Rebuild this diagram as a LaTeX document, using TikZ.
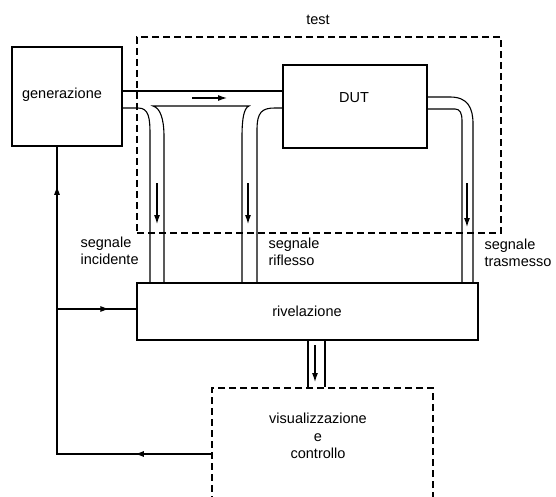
\documentclass[tikz,border=0pt]{standalone}
\usepackage{fontspec}
\setmainfont{Liberation Sans}
\usetikzlibrary{arrows.meta,decorations.markings}
\begin{document}
\begin{tikzpicture}[x=1pt,y=-1pt,
  line width=1.1pt,
  box/.style={draw,rectangle,inner sep=0pt},
  dbox/.style={draw,rectangle,inner sep=0pt,line width=2pt,dash pattern=on 7pt off 4pt},
  txt/.style={inner sep=0pt,font=\fontsize{14.5}{17.5}\selectfont,align=left},
  ctxt/.style={inner sep=0pt,font=\fontsize{14.5}{17.5}\selectfont,align=center},
  arr/.style={-{Latex[length=9pt,width=6pt]}},
  midarr/.style={postaction={decorate},decoration={markings,mark=at position #1 with {\arrow{Latex[length=9pt,width=6pt]}}}},
  twoarr/.style 2 args={postaction={decorate},decoration={markings,
     mark=at position #1 with {\arrow{Latex[length=9pt,width=6pt]}},
     mark=at position #2 with {\arrow{Latex[length=9pt,width=6pt]}}}}
]
\useasboundingbox (0,0) rectangle (556,497);
% boxes
\node[dbox,minimum width=364pt,minimum height=196pt] (test) at (319,135) {};
\node[ctxt] (testlabel) at (318,20) {test};
\node[box,minimum width=110pt,minimum height=99pt] (gen) at (67,96.5) {};
\node[ctxt] (genlabel) at (62,95) {generazione};
\node[box,minimum width=144pt,minimum height=83pt] (dut) at (355,106.5) {};
\node[ctxt] (dutlabel) at (354,98) {DUT};
\node[box,minimum width=341pt,minimum height=57pt,fill=white] (riv) at (307.5,311.5) {};
\node[ctxt] (rivlabel) at (307,311) {rivelazione};
\node[dbox,minimum width=221pt,minimum height=132pt] (vis) at (322.5,454) {};
\node[ctxt] (vislabel) at (318,436) {visualizzazione\\e\\controllo};
% labels
\node[txt,anchor=north west] (lin) at (80,236) {segnale\\incidente};
\node[txt,anchor=north west] (lrf) at (268,237) {segnale\\riflesso};
\node[txt,anchor=north west] (ltr) at (484,238) {segnale\\trasmesso};
% incident path
\draw (gen.east |- 0,91) -- (dut.west |- 0,91);
\draw[arr] (192,98) -- (227,98);
\draw (gen.east |- 0,108) -- (138,108) .. controls (149,108) and (150,118) .. (150,135) -- (150,0 |- riv.north);
\draw (164,0 |- riv.north) -- (164,137) .. controls (164,118) and (160,108) .. (153,106) -- (249,106)
      .. controls (244,108) and (242,118) .. (242,137) -- (242,0 |- riv.north);
\draw (257,0 |- riv.north) -- (257,130) .. controls (257,112) and (262,108) .. (275,108) -- (dut.west |- 0,108);
% transmitted
\draw (dut.east |- 0,97) -- (450,97) .. controls (468,97) and (473,108) .. (473,124) -- (473,0 |- riv.north);
\draw (dut.east |- 0,109) -- (455,109) .. controls (460,109) and (462,113) .. (462,121) -- (462,0 |- riv.north);
% signal arrows
\draw[arr] (157,183) -- (157,224);
\draw[arr] (248,183) -- (248,224);
\draw[arr] (467,183) -- (467,227);
% to visualization
\draw (308,0 |- riv.south) -- (308,0 |- vis.north);
\draw (325,0 |- riv.south) -- (325,0 |- vis.north);
\draw[arr] (315,345) -- (315,382);
% feedback
\coordinate (fb) at (57,454);
\coordinate (br) at (57,309);
\draw[twoarr={0.165}{0.915}] (vis.west) -- (fb) -- (gen.south -| fb);
\draw[midarr=0.66] (br) -- (riv.west |- br);
\end{tikzpicture}
\end{document}
